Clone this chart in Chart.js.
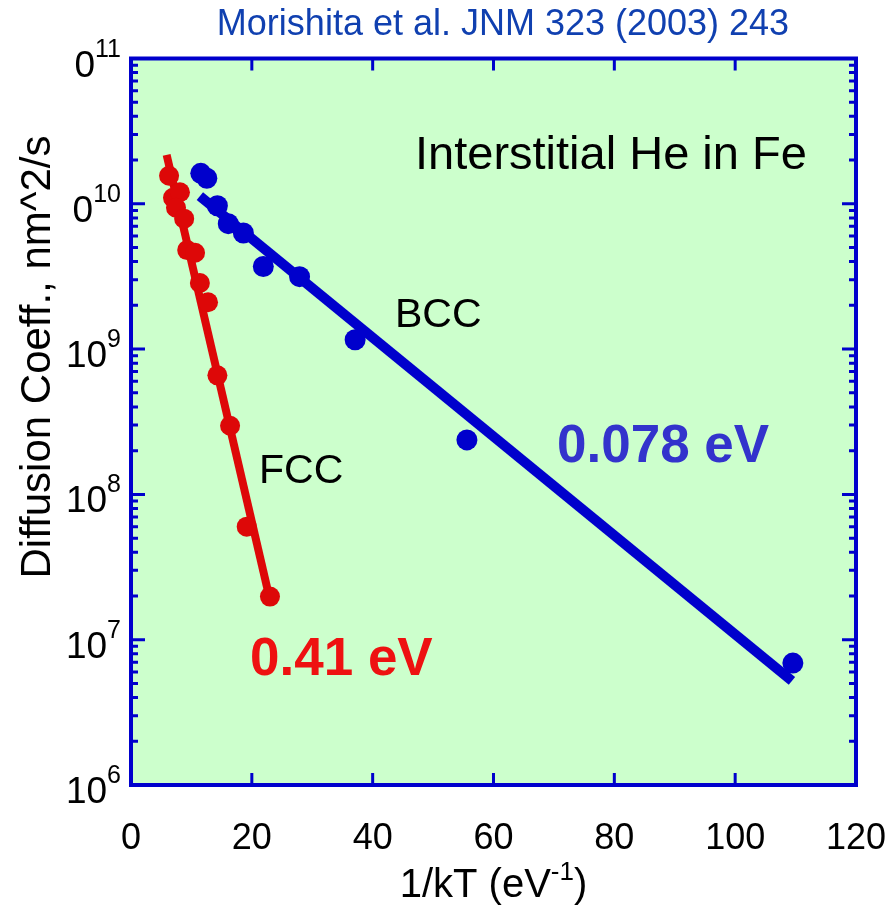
<!DOCTYPE html>
<html lang="en">
<head>
<meta charset="UTF-8">
<title>Interstitial He in Fe</title>
<script src="https://cdn.jsdelivr.net/npm/chart.js@4"></script>
<style>
  html, body { margin: 0; padding: 0; background: #fff; }
</style>
</head>
<body>
<canvas id="chart" width="891" height="911"></canvas>
<script>
// FCC (red) simulation points: x = 1/kT (eV^-1), y = D (nm^2/s)
const fccX = [6.3, 6.95, 8.1, 7.45, 8.8, 9.3, 10.6, 11.4, 12.75, 14.3, 16.4, 19.15, 23.0];
const fccY = [1.56e10, 1.1e10, 1.2e10, 9.4e9, 7.9e9, 4.8e9, 4.6e9, 2.85e9, 2.1e9, 6.6e8, 2.97e8, 6.0e7, 1.98e7];
// FCC Arrhenius fit (0.41 eV)
const fccFitX = [5.9, 22.8];
const fccFitY = [2.17e10, 2.04e7];

// BCC (blue) simulation points
const bccX = [11.55, 12.55, 14.3, 16.1, 18.6, 21.9, 27.9, 37.1, 55.6, 109.55];
const bccY = [1.62e10, 1.5e10, 9.7e9, 7.3e9, 6.3e9, 3.7e9, 3.15e9, 1.16e9, 2.37e8, 6.9e6];
// BCC Arrhenius fit (0.078 eV)
const bccFitX = [11.4, 109.4];
const bccFitY = [1.13e10, 5.2e6];

// axis ticks
const xTicks = [0, 20, 40, 60, 80, 100, 120];
const yDecades = [6, 7, 8, 9, 10, 11];

const toXY = (xs, ys) => xs.map((x, i) => ({ x: x, y: ys[i] }));

const FONT = "'Liberation Sans', Arial, sans-serif";
const FRAME = '#0000cc';

const decor = {
  id: 'decor',
  beforeDatasetsDraw(chart) {
    const { ctx, chartArea: a } = chart;
    ctx.save();
    ctx.fillStyle = '#ccffcc';
    ctx.fillRect(a.left, a.top, a.right - a.left, a.bottom - a.top);
    ctx.restore();
  },
  afterDraw(chart) {
    const { ctx, chartArea: a } = chart;
    const xs = chart.scales.x, ys = chart.scales.y;
    ctx.save();

    // ticks (inward, all four sides)
    ctx.strokeStyle = FRAME;
    ctx.lineWidth = 3;
    ctx.beginPath();
    xTicks.forEach(t => {
      const px = xs.getPixelForValue(t);
      ctx.moveTo(px, a.bottom); ctx.lineTo(px, a.bottom - 12);
      ctx.moveTo(px, a.top); ctx.lineTo(px, a.top + 12);
    });
    yDecades.forEach(d => {
      const py = ys.getPixelForValue(Math.pow(10, d));
      ctx.moveTo(a.left, py); ctx.lineTo(a.left + 14, py);
      ctx.moveTo(a.right, py); ctx.lineTo(a.right - 14, py);
      if (d < 11) {
        for (let k = 2; k <= 9; k++) {
          const pm = ys.getPixelForValue(k * Math.pow(10, d));
          ctx.moveTo(a.left, pm); ctx.lineTo(a.left + 7, pm);
          ctx.moveTo(a.right, pm); ctx.lineTo(a.right - 7, pm);
        }
      }
    });
    ctx.stroke();

    // frame
    ctx.lineWidth = 4;
    ctx.strokeRect(a.left, a.top, a.right - a.left, a.bottom - a.top);

    // x tick labels
    ctx.fillStyle = '#000';
    ctx.font = '36px ' + FONT;
    ctx.textAlign = 'center';
    ctx.textBaseline = 'alphabetic';
    xTicks.forEach(t => ctx.fillText(String(t), xs.getPixelForValue(t), 849));

    // y tick labels 10^n (top two are cut on the left, as in the original)
    yDecades.forEach(d => {
      const py = ys.getPixelForValue(Math.pow(10, d));
      ctx.save();
      ctx.textAlign = 'left';
      ctx.font = '25px ' + FONT;
      const ew = ctx.measureText(String(d)).width;
      ctx.font = '37px ' + FONT;
      const bw = ctx.measureText('10').width;
      const ow = ctx.measureText('1').width;
      const right = 121;
      const start = right - ew - bw;
      if (d >= 10) { ctx.beginPath(); ctx.rect(start + ow - 1, 0, 300, 911); ctx.clip(); }
      ctx.fillText('10', start, py + 18);
      ctx.font = '25px ' + FONT;
      ctx.fillText(String(d), right - ew, py - 2);
      ctx.restore();
    });

    // axis titles
    ctx.textAlign = 'left';
    ctx.font = '40px ' + FONT;
    const p1 = '1/kT (eV', p3 = ')';
    const w1 = ctx.measureText(p1).width, w3 = ctx.measureText(p3).width;
    ctx.font = '26px ' + FONT;
    const w2 = ctx.measureText('-1').width;
    let sx = (a.left + a.right) / 2 - (w1 + w2 + w3) / 2;
    ctx.font = '40px ' + FONT;
    ctx.fillText(p1, sx, 897);
    ctx.font = '26px ' + FONT;
    ctx.fillText('-1', sx + w1, 880);
    ctx.font = '40px ' + FONT;
    ctx.fillText(p3, sx + w1 + w2, 897);

    ctx.save();
    ctx.translate(50, 357);
    ctx.rotate(-Math.PI / 2);
    ctx.textAlign = 'center';
    ctx.font = '42px ' + FONT;
    ctx.fillText('Diffusion Coeff., nm^2/s', 0, 0);
    ctx.restore();

    // title
    ctx.textAlign = 'center';
    ctx.fillStyle = '#1040b0';
    ctx.font = '36px ' + FONT;
    ctx.fillText('Morishita et al. JNM 323 (2003) 243', 503, 35);

    // annotations
    ctx.textAlign = 'left';
    ctx.fillStyle = '#000';
    ctx.font = '47px ' + FONT;
    ctx.fillText('Interstitial He in Fe', 415, 169);
    ctx.font = '41px ' + FONT;
    ctx.fillText('BCC', 395, 327);
    ctx.fillText('FCC', 259, 483);
    ctx.font = 'bold 53px ' + FONT;
    ctx.fillStyle = '#3333cc';
    ctx.fillText('0.078 eV', 557, 462);
    ctx.fillStyle = '#ee1111';
    ctx.fillText('0.41 eV', 250, 675);

    ctx.restore();
  }
};

new Chart(document.getElementById('chart'), {
  type: 'scatter',
  data: {
    datasets: [
      {
        label: 'FCC points', data: toXY(fccX, fccY),
        backgroundColor: '#dd0808', borderColor: '#dd0808',
        pointRadius: 10, pointBorderWidth: 0, order: 1
      },
      {
        label: 'FCC fit', data: toXY(fccFitX, fccFitY), showLine: true,
        borderColor: '#dd0808', borderWidth: 8, pointRadius: 0, order: 2
      },
      {
        label: 'BCC points', data: toXY(bccX, bccY),
        backgroundColor: '#0000cc', borderColor: '#0000cc',
        pointRadius: 10.5, pointBorderWidth: 0, order: 3
      },
      {
        label: 'BCC fit', data: toXY(bccFitX, bccFitY), showLine: true,
        borderColor: '#0000cc', borderWidth: 10, pointRadius: 0, order: 4
      }
    ]
  },
  options: {
    responsive: false,
    animation: false,
    devicePixelRatio: 1,
    layout: { padding: { left: 0, right: 35, top: 58.5, bottom: 0 } },
    plugins: { legend: { display: false }, tooltip: { enabled: false } },
    scales: {
      x: {
        type: 'linear', min: 0, max: 120,
        grid: { display: false }, border: { display: false },
        ticks: { display: false },
        afterFit: s => { s.height = 126; }
      },
      y: {
        type: 'logarithmic', min: 1e6, max: 1e11,
        grid: { display: false }, border: { display: false },
        ticks: { display: false },
        afterFit: s => { s.width = 131; }
      }
    }
  },
  plugins: [decor]
});
</script>
</body>
</html>
